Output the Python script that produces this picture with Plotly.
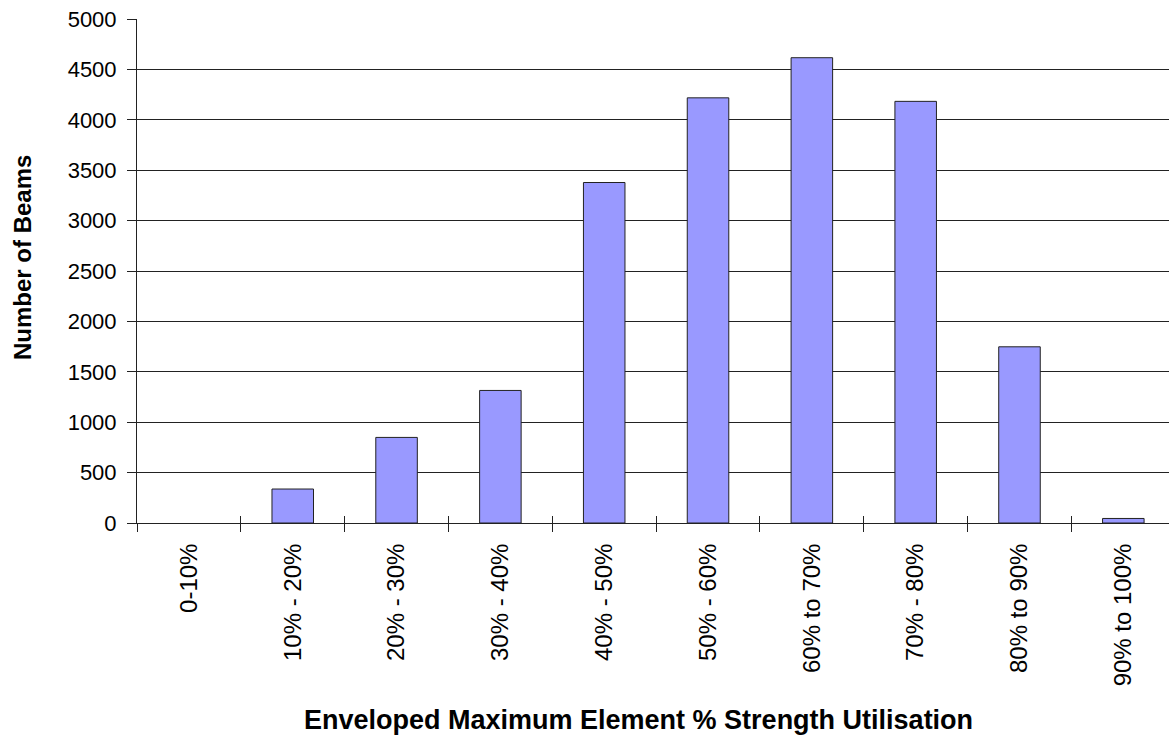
import plotly.graph_objects as go

# Utilisation bands and beam counts per band
categories = ["0-10%", "10% - 20%", "20% - 30%", "30% - 40%", "40% - 50%",
              "50% - 60%", "60% to 70%", "70% - 80%", "80% to 90%", "90% to 100%"]
beam_counts = [0, 337, 849, 1315, 3378, 4218, 4616, 4183, 1748, 45]
y_ticks = [0, 500, 1000, 1500, 2000, 2500, 3000, 3500, 4000, 4500, 5000]

FONT = "Liberation Sans, Arial, sans-serif"
W, H = 1169, 738
L, T, B = 137, 19, 215

# empty bands get no outline so nothing is drawn for them
outline_widths = [0 if v == 0 else 1 for v in beam_counts]

fig = go.Figure()
fig.add_trace(go.Bar(
    x=categories, y=beam_counts,
    marker=dict(color="#9999FF", line=dict(color="#222222", width=outline_widths)),
    width=0.4, showlegend=False, hoverinfo="x+y",
))

# invisible companion trace so the second x-axis (inner tick half) is drawn
fig.add_trace(go.Scatter(x=categories, y=beam_counts, xaxis="x2", mode="none",
                         showlegend=False, hoverinfo="skip"))

xrange = [-0.5, 9.44]
fig.update_layout(
    width=W, height=H,
    margin=dict(l=L, r=0, t=T, b=B, pad=0),
    paper_bgcolor="white", plot_bgcolor="white",
    font=dict(family=FONT, color="black"),
    xaxis=dict(
        type="category", range=xrange, tickson="boundaries",
        ticks="outside", ticklen=8, tickwidth=1, tickcolor="#222222",
        tickangle=-90, tickfont=dict(size=24, family=FONT, color="black"),
        ticklabelstandoff=10,
        showline=True, linecolor="#222222", linewidth=1,
        showgrid=False, zeroline=False,
    ),
    xaxis2=dict(
        type="category", range=xrange, overlaying="x", matches="x",
        tickson="boundaries", ticks="inside", ticklen=7, tickwidth=1,
        tickcolor="#222222", showticklabels=False, showgrid=False,
        showline=False, zeroline=False, side="bottom", anchor="y",
    ),
    yaxis=dict(
        range=[0, 5000], tickvals=y_ticks, ticktext=[str(v) for v in y_ticks],
        ticks="outside", ticklen=9, tickwidth=1, tickcolor="#222222",
        tickfont=dict(size=22, family=FONT, color="black"),
        ticklabelstandoff=6,
        showline=True, linecolor="#222222", linewidth=1,
        showgrid=True, gridcolor="#222222", gridwidth=1,
        zeroline=False,
    ),
    bargap=0.6,
    annotations=[
        dict(text="<b>Enveloped Maximum Element % Strength Utilisation</b>",
             xref="paper", yref="paper", x=(638 - L) / (W - L), y=(523 - 720) / 504,
             xanchor="center", yanchor="middle", showarrow=False,
             font=dict(size=27, family=FONT, color="black")),
        dict(text="<b>Number of Beams</b>", textangle=-90,
             xref="paper", yref="paper", x=(22 - L) / (W - L), y=(523 - 258) / 504,
             xanchor="center", yanchor="middle", showarrow=False,
             font=dict(size=24, family=FONT, color="black")),
    ],
)

fig.write_html("out.html")
